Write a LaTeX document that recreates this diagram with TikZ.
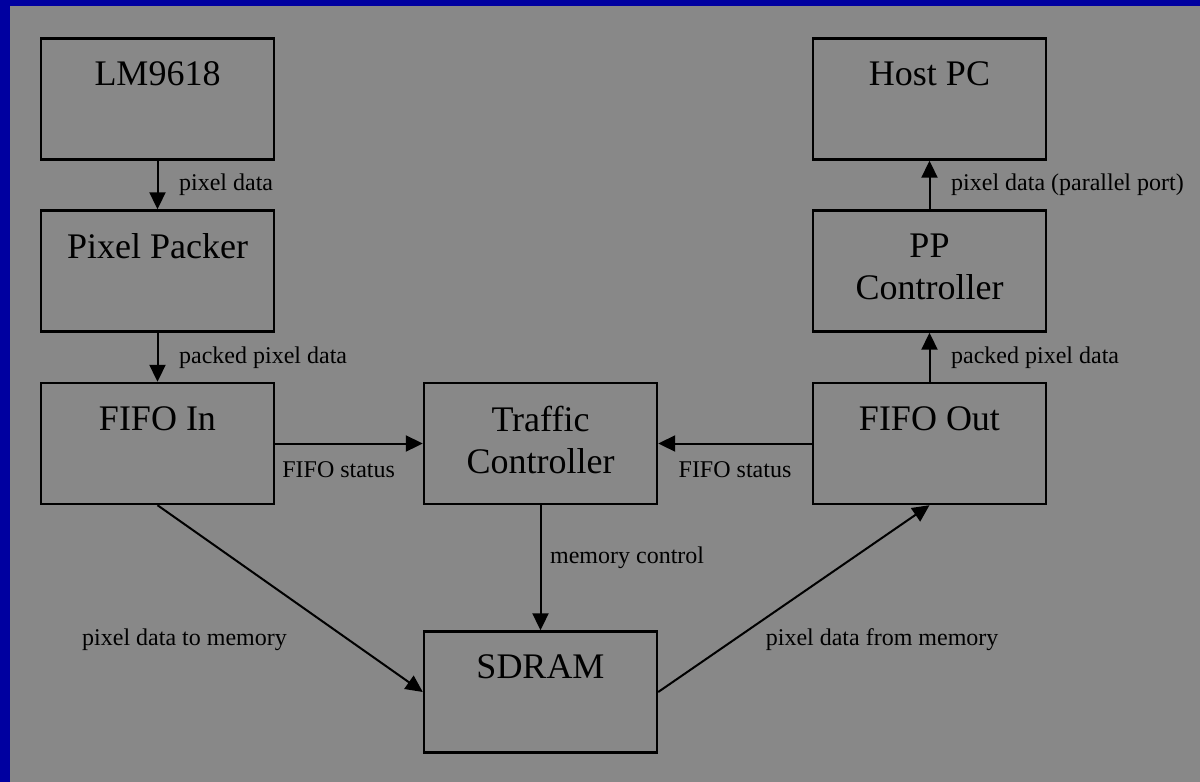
\documentclass[tikz,border=0pt]{standalone}
\usepackage{fontspec}
\setmainfont{Liberation Serif}
\usetikzlibrary{arrows.meta}
\definecolor{slideblue}{RGB}{0,0,160}
\definecolor{slidegray}{RGB}{136,136,136}

\begin{document}
\begin{tikzpicture}[x=0.5pt, y=-0.5pt,
        blk/.style    = {draw, line width=1.2pt,
                         minimum width=116.5pt, minimum height=60.5pt,
                         inner sep=0pt},
        blktxt/.style = {anchor=north, yshift=-12pt, inner sep=0pt,
                         align=center,
                         font=\fontsize{18pt}{21pt}\selectfont},
        lbl/.style    = {font=\fontsize{12pt}{14pt}\selectfont},
        flow/.style   = {->, line width=1pt},
        >={Triangle[length=8.5pt, width=8pt]}
                                ]
        % background
        \useasboundingbox (0,0) rectangle (1200,782);
        \fill[slideblue] (0,0) rectangle (1200,782);
        \fill[slidegray] (10,6) rectangle (1200,782);

        % input side
        \node[blk, label={[blktxt]north:LM9618}]       (lm)      at (157.5,99)    {};
        \node[blk, label={[blktxt]north:Pixel Packer}] (packer)  at (157.5,271)   {};
        \node[blk, label={[blktxt]north:FIFO In}]      (fifoin)  at (157.5,443.5) {};
        % memory path
        \node[blk, label={[blktxt]north:{Traffic\\Controller}}] (traffic) at (540.5,443.5) {};
        \node[blk, label={[blktxt]north:SDRAM}]        (sdram)   at (540.5,692)   {};
        % output side
        \node[blk, label={[blktxt]north:FIFO Out}]     (fifoout) at (929.5,443.5) {};
        \node[blk, label={[blktxt]north:{PP\\Controller}}] (pp)  at (929.5,271)   {};
        \node[blk, label={[blktxt]north:Host PC}]      (host)    at (929.5,99)    {};

        % data flow
        \draw[flow] (lm) -- node[lbl, right=7pt] {pixel data} (packer);
        \draw[flow] (packer) -- node[lbl, right=7pt] {packed pixel data} (fifoin);
        \draw[flow] (fifoin) -- node[lbl, below=5pt, pos=0.43] {FIFO status} (traffic);
        \draw[flow] (fifoout) -- node[lbl, below=5pt] {FIFO status} (traffic);
        \draw[flow] (traffic) -- node[lbl, right=1pt, pos=0.42] {memory control} (sdram);
        \draw[flow] (fifoin.south) -- node[lbl, pos=0.72, left=27pt] {pixel data to memory} (sdram.west);
        \draw[flow] (sdram.east) -- node[lbl, pos=0.28, right=12pt] {pixel data from memory} (fifoout.south);
        \draw[flow] (fifoout) -- node[lbl, right=7pt] {packed pixel data} (pp);
        \draw[flow] (pp) -- node[lbl, right=7pt] {pixel data (parallel port)} (host);

    \end{tikzpicture}
\end{document}
